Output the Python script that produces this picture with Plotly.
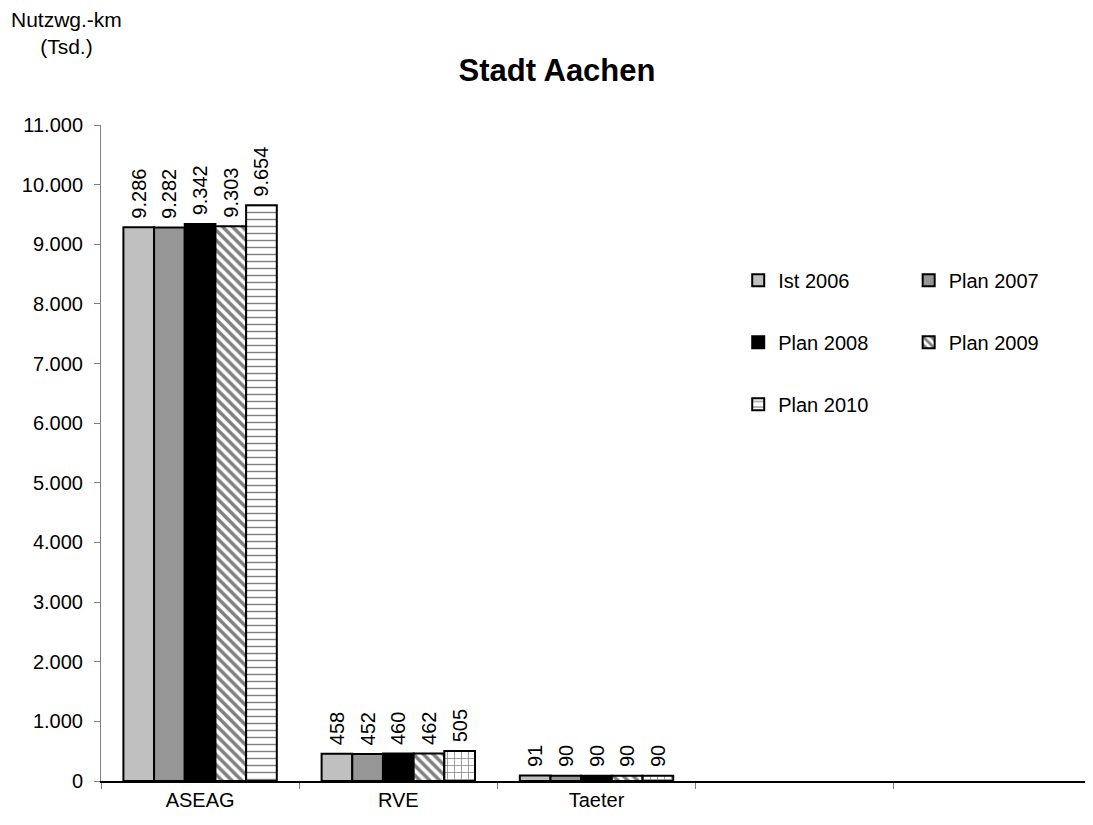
import plotly.graph_objects as go

categories = ["ASEAG", "RVE", "Taeter", " ", "  "]
series_names = ["Ist 2006", "Plan 2007", "Plan 2008", "Plan 2009", "Plan 2010"]
ist_2006 = [9286, 458, 91]
plan_2007 = [9282, 452, 90]
plan_2008 = [9342, 460, 90]
plan_2009 = [9303, 462, 90]
plan_2010 = [9654, 505, 90]
values = [ist_2006, plan_2007, plan_2008, plan_2009, plan_2010]

colors = ["#C0C0C0", "#969696", "#000000", "#FFFFFF", "#FFFFFF"]
patterns = [None, None, None,
            {"shape": "\\", "fgcolor": "black", "bgcolor": "white", "size": 7, "solidity": 0.5},
            {"shape": ["-", "+", "+"], "fgcolor": "black", "bgcolor": "white", "size": 7, "solidity": 0.2}]
legends = ["legend", "legend2", "legend", "legend2", "legend"]

FONT = "Liberation Sans, Arial, sans-serif"

fig = go.Figure()
for i, name in enumerate(series_names):
    marker = dict(color=colors[i], line=dict(color="black", width=2))
    if patterns[i]:
        marker["pattern"] = patterns[i]
    fig.add_trace(go.Bar(
        x=categories[:3], y=values[i], name=name, marker=marker,
        texttemplate="\u00a0%{y:,}", textposition="outside",
        textangle=-90, constraintext="none", cliponaxis=False,
        textfont=dict(size=20, color="black", family=FONT),
        legend=legends[i], legendgroup=name,
    ))

fig.update_layout(
    width=1085, height=817,
    margin=dict(l=93, r=1, t=117, b=44),
    paper_bgcolor="white", plot_bgcolor="white",
    separators=",.",
    font=dict(family=FONT, size=20, color="black"),
    barmode="group", bargap=0.226, bargroupgap=0,
    title=dict(text="<b>Stadt Aachen</b>", x=0.506, xanchor="center", y=0.924, yanchor="middle",
               font=dict(size=31)),
    showlegend=True,
    legend=dict(x=0.643, y=0.793, xanchor="left", yanchor="top", tracegroupgap=33,
                font=dict(size=20), bgcolor="rgba(0,0,0,0)", itemclick=False),
    legend2=dict(x=0.815, y=0.793, xanchor="left", yanchor="top", tracegroupgap=33,
                 font=dict(size=20), bgcolor="rgba(0,0,0,0)", itemclick=False),
    xaxis=dict(type="category", categoryorder="array", categoryarray=categories,
               range=[-0.5, 4.5], tickson="boundaries", ticks="outside", ticklen=6,
               tickcolor="#808080", showline=True, linecolor="black", linewidth=2,
               showgrid=False, tickfont=dict(size=20)),
    yaxis=dict(range=[0, 11000], dtick=1000, tickformat=",", ticks="outside", ticklen=6,
               tickcolor="#808080", showline=True, linecolor="#808080", linewidth=1,
               showgrid=False, zeroline=False, tickfont=dict(size=20), ticklabelstandoff=7),
    annotations=[dict(text="Nutzwg.-km<br>(Tsd.)", xref="paper", yref="paper", x=-0.035, y=1.14,
                      xanchor="center", yanchor="middle", showarrow=False, font=dict(size=21))],
)

fig.write_html("out.html")
